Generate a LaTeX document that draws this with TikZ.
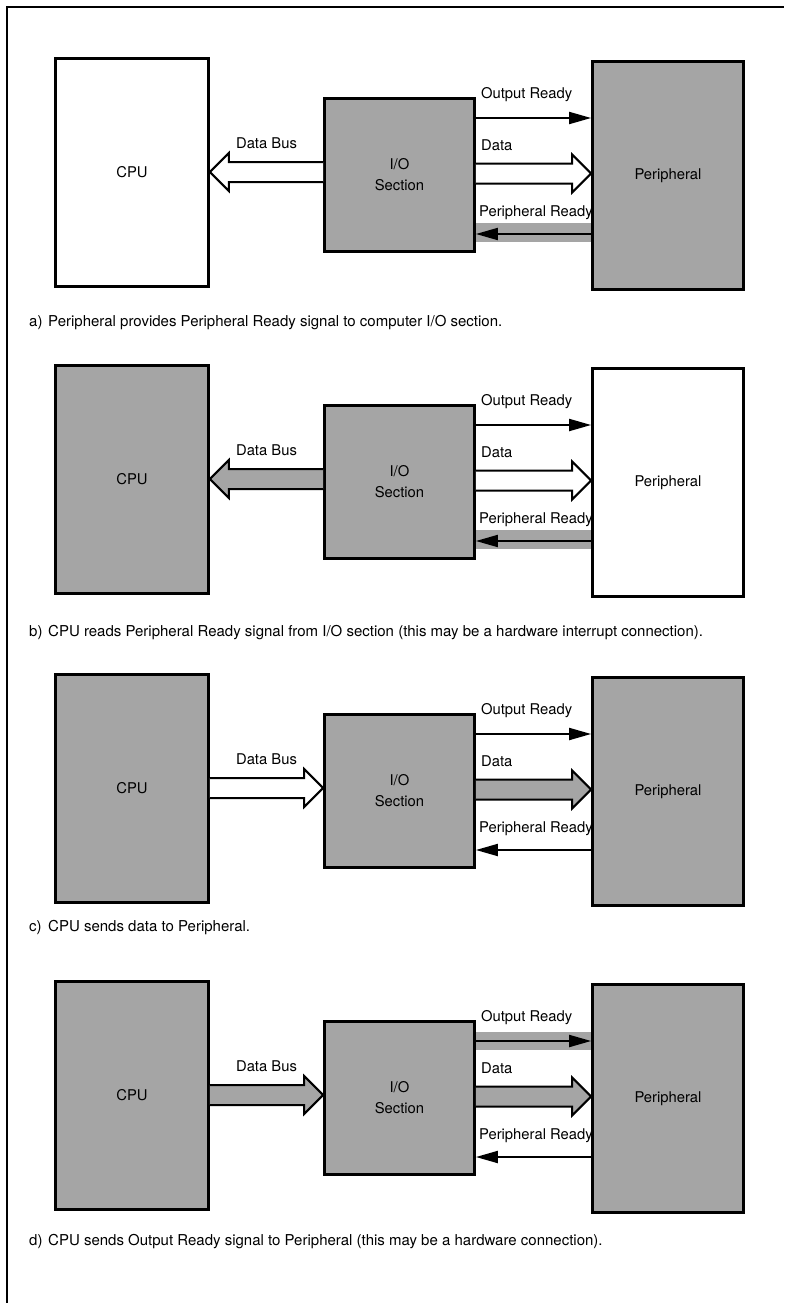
\documentclass[tikz,border=0pt]{standalone}
\usepackage{fontspec}
\setmainfont{TeX Gyre Heros}
\usetikzlibrary{arrows.meta,calc}
\definecolor{halftone}{RGB}{165,165,165}
\newcommand\buildpanel[3]{%
  \node[cpubox, fill=#2] (cpu#1) at (132,172.5) {CPU};
  \node[iobox, fill=halftone] (io#1) at (399.5,175) {I/O\\Section};
  \node[perbox, fill=#3] (per#1) at (668,175.5) {Peripheral};
  \coordinate (or#1) at ($(io#1.east)+(0,-57)$);
  \coordinate (pr#1) at ($(io#1.east)+(0,59)$);
  \coordinate (dt#1) at ($(io#1.east)+(0,-1.5)$);
  \coordinate (db#1) at ($(io#1.west)+(0,-3)$);
  \coordinate (dc#1) at (db#1 -| cpu#1.east);
  \node[lbl, anchor=west] (orl#1) at ($(io#1.east)+(5,-80)$) {Output Ready};
  \node[lbl, anchor=west] (dtl#1) at ($(io#1.east)+(5,-30)$) {Data};
  \node[lbl, anchor=west] (prl#1) at ($(io#1.east)+(3,38)$) {Peripheral Ready};
  \node[lbl] (dbl#1) at ($(cpu#1.east)!0.5!(io#1.west)+(0,-31)$) {Data Bus};
}
% block arrow pointing right from #2 to #3
\newcommand\busright[3]{%
  \draw[busarrow, fill=#1] let \p1=(#2), \p2=(#3) in
    (\x1,\y1+10pt) -- (\x2-19pt,\y1+10pt) -- (\x2-19pt,\y1+19pt) -- (\x2,\y1)
    -- (\x2-19pt,\y1-19pt) -- (\x2-19pt,\y1-10pt) -- (\x1,\y1-10pt);}
% block arrow pointing left from #2 to #3
\newcommand\busleft[3]{%
  \draw[busarrow, fill=#1] let \p1=(#2), \p2=(#3) in
    (\x1,\y1+10pt) -- (\x2+19pt,\y1+10pt) -- (\x2+19pt,\y1+19pt) -- (\x2,\y1)
    -- (\x2+19pt,\y1-19pt) -- (\x2+19pt,\y1-10pt) -- (\x1,\y1-10pt);}
\begin{document}
\begin{tikzpicture}[x=1pt,y=-1pt,
  blk/.style={draw, line width=2.8pt, inner sep=0pt, font=\fontsize{14.8}{16}\selectfont},
  cpubox/.style={blk, minimum width=153pt, minimum height=228pt},
  iobox/.style={blk, minimum width=150pt, minimum height=153pt, align=center, font=\fontsize{14.8}{21}\selectfont},
  perbox/.style={blk, minimum width=151pt, minimum height=228pt},
  lbl/.style={font=\fontsize{14.8}{16}\selectfont, inner sep=0pt},
  captext/.style={font=\fontsize{15}{17}\selectfont, inner sep=0pt, anchor=west},
  sigarrow/.style={line width=2pt, -{Triangle[length=22pt,width=12pt]}},
  busarrow/.style={line width=2pt, line join=miter},
  frameline/.style={line width=2pt},
]
\useasboundingbox (0,0) rectangle (784,1303);
\draw[frameline] (7,1303) -- (7,7) -- (784,7);

% ---------- panel a
\begin{scope}
  \buildpanel{a}{white}{halftone}
  \fill[halftone] ($(ioa.east)+(0,48)$) rectangle ($(pra -| pera.west)+(0,8)$);
  \draw[sigarrow] (ora) -- (ora -| pera.west);
  \draw[sigarrow] (pra -| pera.west) -- (pra);
  \busright{white}{dta}{pera.west}
  \busleft{white}{dba}{cpua.east}
\end{scope}

% ---------- panel b
\begin{scope}[yshift=-307pt]
  \buildpanel{b}{halftone}{white}
  \fill[halftone] ($(iob.east)+(0,48)$) rectangle ($(prb -| perb.west)+(0,8)$);
  \draw[sigarrow] (orb) -- (orb -| perb.west);
  \draw[sigarrow] (prb -| perb.west) -- (prb);
  \busright{white}{dtb}{perb.west}
  \busleft{halftone}{dbb}{cpub.east}
\end{scope}

% ---------- panel c
\begin{scope}[yshift=-616pt]
  \buildpanel{c}{halftone}{halftone}
  \draw[sigarrow] (orc) -- (orc -| perc.west);
  \draw[sigarrow] (prc -| perc.west) -- (prc);
  \busright{halftone}{dtc}{perc.west}
  \busright{white}{dcc}{ioc.west}
\end{scope}

% ---------- panel d
\begin{scope}[yshift=-923pt]
  \buildpanel{d}{halftone}{halftone}
  \fill[halftone] ($(iod.east)+(0,-66)$) rectangle ($(ord -| perd.west)+(0,9)$);
  \draw[sigarrow] (ord) -- (ord -| perd.west);
  \draw[sigarrow] (prd -| perd.west) -- (prd);
  \busright{halftone}{dtd}{perd.west}
  \busright{halftone}{dcd}{iod.west}
\end{scope}

% ---------- captions
\node[captext] (capa) at (29,323) {a)};
\node[captext] (capta) at (48,323) {Peripheral provides Peripheral Ready signal to computer I/O section.};
\node[captext] (capb) at (29,633) {b)};
\node[captext] (captb) at (48,633) {CPU reads Peripheral Ready signal from I/O section (this may be a hardware interrupt connection).};
\node[captext] (capc) at (29,928) {c)};
\node[captext] (captc) at (48,928) {CPU sends data to Peripheral.};
\node[captext] (capd) at (29,1242) {d)};
\node[captext] (captd) at (48,1242) {CPU sends Output Ready signal to Peripheral (this may be a hardware connection).};
\end{tikzpicture}
\end{document}
